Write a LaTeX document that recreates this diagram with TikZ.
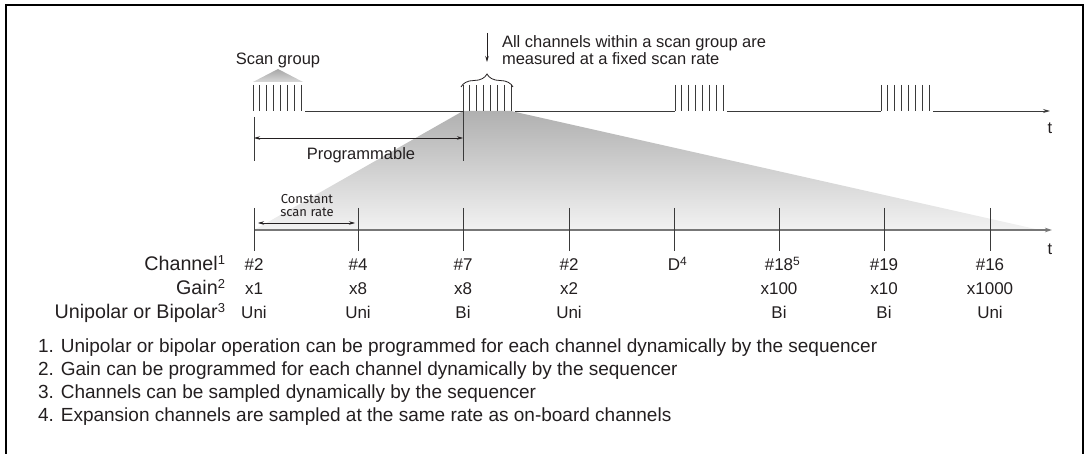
\documentclass[tikz,border=0pt]{standalone}
\usepackage{fontspec}
\setmainfont{Liberation Sans}
\newfontfamily\csfont{Fira Sans}
\usetikzlibrary{arrows.meta,decorations.pathreplacing,calc}
\definecolor{ink}{HTML}{231F20}
\definecolor{pulse}{HTML}{3A3A3A}
\definecolor{tline}{HTML}{777777}
\newcommand\supnum[2][13]{\raisebox{0.55ex}{\fontsize{#1}{#1}\selectfont #2}}
\begin{document}
\begin{tikzpicture}[x=1pt,y=-1pt,
  every node/.style={inner sep=0pt,outer sep=0pt,text=ink},
  pulseline/.style={draw=pulse,line width=0.9pt},
  baseline/.style={draw=pulse,line width=0.9pt},
  tick/.style={draw=pulse,line width=0.9pt},
  arr/.style={draw=ink,line width=0.7pt,-{Stealth[length=6pt,width=3.5pt]}},
  darr/.style={draw=ink,line width=0.7pt,{Stealth[length=6pt,width=3.5pt]}-{Stealth[length=6pt,width=3.5pt]}},
  toptext/.style={font=\fontsize{16.5}{15}\selectfont},
  rowlabel/.style={font=\fontsize{19.7}{19}\selectfont,anchor=base east},
  valtext/.style={font=\fontsize{17}{17}\selectfont,anchor=base},
  foot/.style={font=\fontsize{19}{19.5}\selectfont,anchor=base west},
]
\useasboundingbox (0,0) rectangle (1086,454);
% frame (open at bottom)
\draw[line width=1.4pt,draw=black] (6,454) -- (6,5) -- (1083,5) -- (1083,454);

% shaded zoom triangle
\shade[top color=gray!62,bottom color=gray!10] (463,111) -- (511,111) -- (1040,230) -- (254,230) -- cycle;

% scan group marker
\node[toptext,anchor=base] (scanlbl) at (278,65) {Scan group};
\shade[top color=gray!70,bottom color=gray!30] (278,69) -- (303,82) -- (253,82) -- cycle;

% pulse groups
\foreach \g/\x in {1/253,2/463,3/675,4/881}{
  \foreach \i in {0,...,7}{
    \draw[pulseline] ({\x+\i*6.86},85) -- ({\x+\i*6.86},111);
  }
  \coordinate (gs\g) at (\x,111);
  \coordinate (ge\g) at ({\x+48+4},111);
}
\coordinate (tend) at (1050,111);
\draw[baseline] (ge1) -- (gs2);
\draw[baseline] (ge2) -- (gs3);
\draw[baseline] (ge3) -- (gs4);
\draw[baseline,-{Stealth[length=7pt,width=4pt]}] (ge4) -- (tend);
\node[toptext] (t1) at (1050,128) {t};

% brace and annotation
\draw[draw=ink,line width=0.8pt,decorate,decoration={brace,amplitude=13pt}] (461,87) -- (513,87);
\coordinate (bracetip) at (487,62);
\coordinate (arrtop) at (487,33);
\draw[arr] (arrtop) -- (bracetip);
\node[toptext,anchor=north west,align=left] (note) at (502,36) {All channels within a scan group are\\measured at a fixed scan rate};

% programmable
\coordinate (p1a) at (254,117); \coordinate (p1b) at (254,161);
\coordinate (p2a) at (463,111); \coordinate (p2b) at (463,161);
\draw[tick] (p1a) -- (p1b);
\draw[tick] (p2a) -- (p2b);
\coordinate (pa) at (254,138); \coordinate (pb) at (463,138);
\draw[darr] (pa) -- (pb);
\node[toptext] (prog) at (361,155) {Programmable};

% second timeline
\coordinate (l2s) at (254,230);
\coordinate (l2e) at (1052,230);
\draw[draw=tline,line width=1.6pt,-{Stealth[length=7pt,width=4.5pt]}] (l2s) -- (l2e);
\node[toptext] (t2) at (1050,249) {t};

\foreach \n/\x in {1/254,2/358,3/463,4/569,5/674,6/779,7/884,8/990}{
  \coordinate (k\n) at (\x,230);
  \draw[tick] (\x,208) -- (\x,251);
}

% constant scan rate
\node[font=\csfont\fontsize{13}{13}\selectfont,align=center] (csr) at (307,206) {Constant\\scan rate};
\coordinate (ca) at (258,223); \coordinate (cb) at (355,223);
\draw[darr,line width=0.6pt] (ca) -- (cb);

% row labels
\node[rowlabel] (lch) at (225,270.5) {Channel\supnum{1}};
\node[rowlabel] (lg) at (225,294.5) {Gain\supnum{2}};
\node[rowlabel] (lub) at (225,318) {Unipolar or Bipolar\supnum{3}};

% values
\foreach \n/\x/\c/\gg/\u in {1/254/\#2/x1/Uni,2/358/\#4/x8/Uni,3/463/\#7/x8/Bi,4/569/\#2/x2/Uni,
   5/674/D\rlap{\supnum[12]{4}}//,6/779/\#18\rlap{\supnum[12]{5}}/x100/Bi,7/884/\#19/x10/Bi,8/990/\#16/x1000/Uni}{
  \node[valtext] (c\n) at (\x,270.5) {\c};
  \node[valtext] (g\n) at (\x,294.5) {\gg};
  \node[valtext] (u\n) at (\x,318) {\u};
}

% footnotes
\node[foot] (f1) at (38,352) {1. Unipolar or bipolar operation can be programmed for each channel dynamically by the sequencer};
\node[foot] (f2) at (38,375) {2. Gain can be programmed for each channel dynamically by the sequencer};
\node[foot] (f3) at (38,398) {3. Channels can be sampled dynamically by the sequencer};
\node[foot] (f4) at (38,421) {4. Expansion channels are sampled at the same rate as on-board channels};
\end{tikzpicture}
\end{document}
